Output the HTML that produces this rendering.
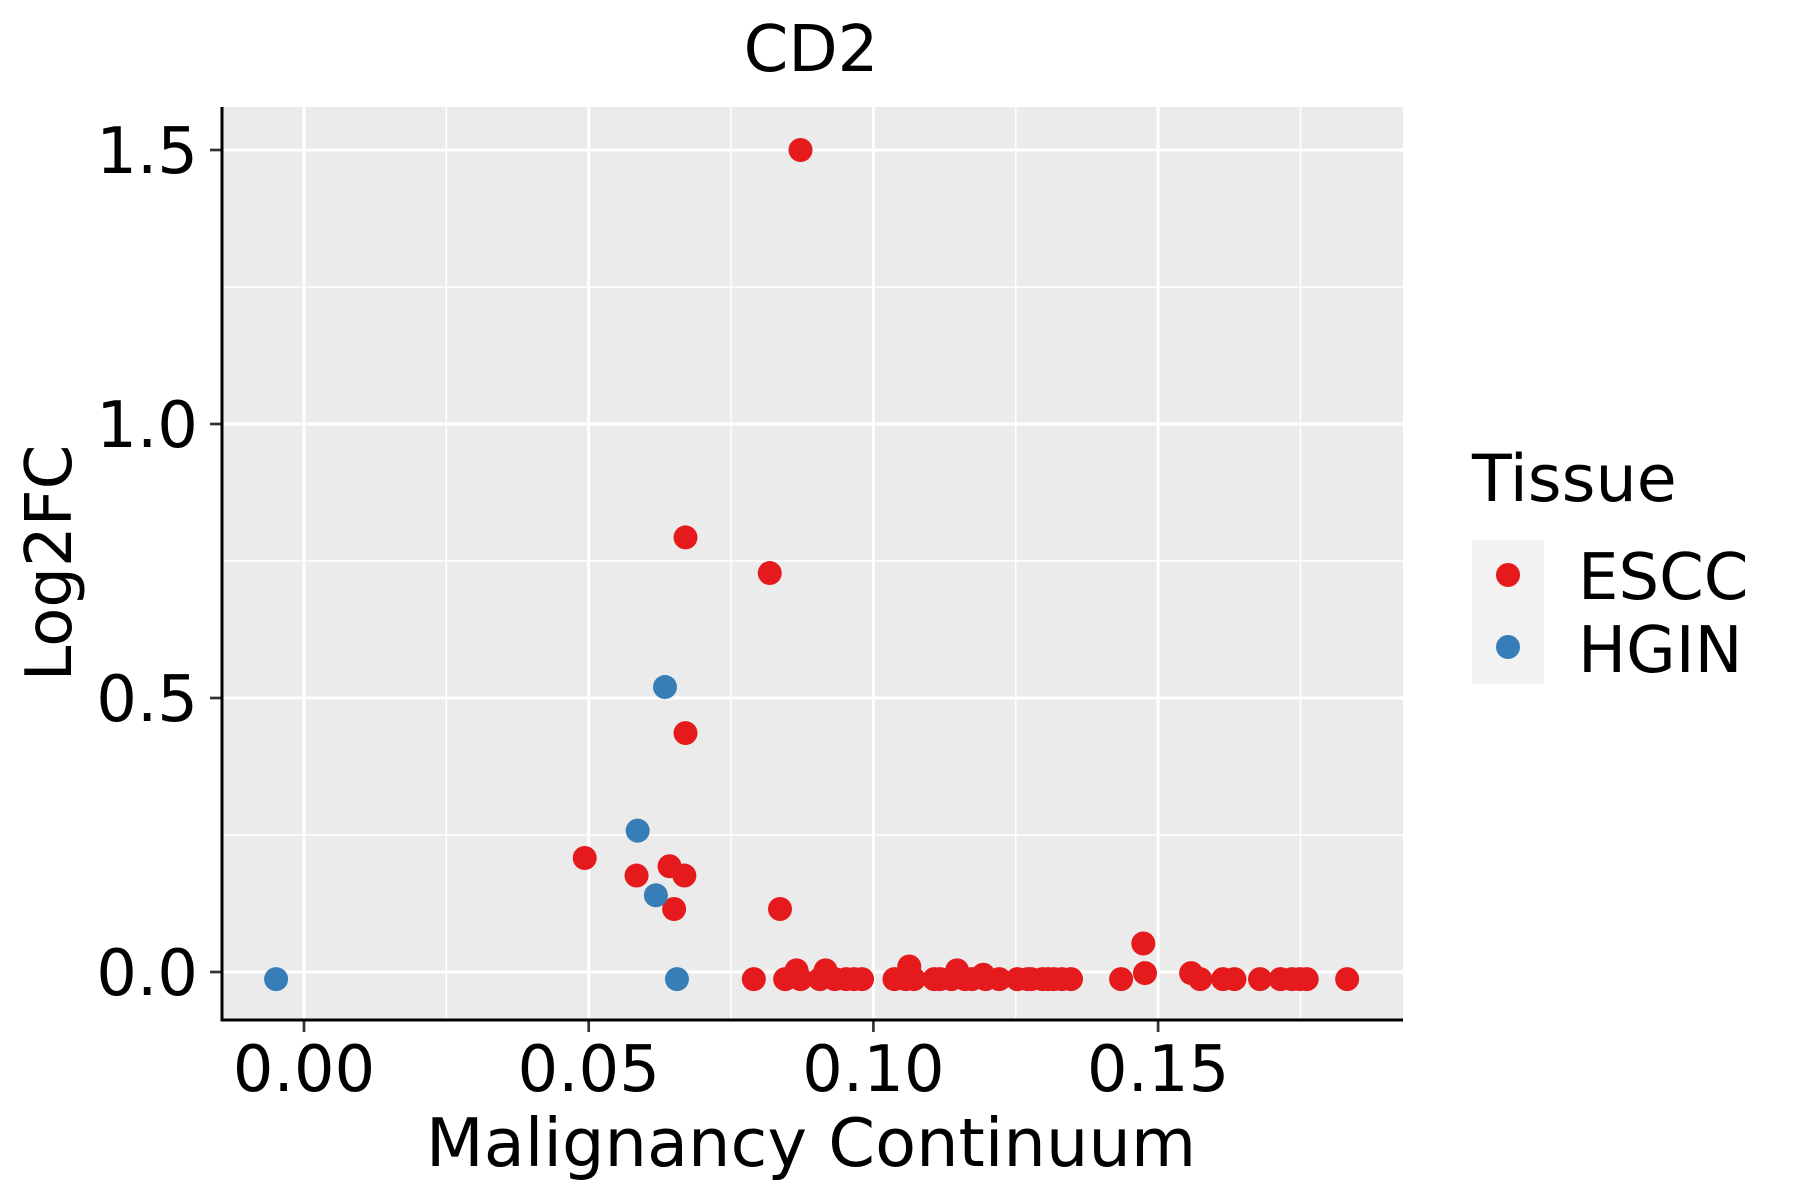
<!DOCTYPE html>
<html><head><meta charset="utf-8"><style>
html,body{margin:0;padding:0;background:#fff;}
svg{display:block;}
text{font-family:"DejaVu Sans","Liberation Sans",sans-serif;fill:#000;}
</style></head><body>
<svg id="chart" width="1800" height="1200" viewBox="0 0 1800 1200">
<rect x="222" y="107" width="1181" height="913" fill="#ebebeb"/>
<g id="grid"></g>
<g id="points"></g>
<g id="axes"></g>
<text x="811" y="71" font-size="64" text-anchor="middle">CD2</text>
<text x="811" y="1166" font-size="67" text-anchor="middle">Malignancy Continuum</text>
<text x="71" y="563" font-size="64" text-anchor="middle" transform="rotate(-90 71 563)">Log2FC</text>
<g>
<text x="1472" y="501" font-size="65">Tissue</text>
<rect x="1472" y="540" width="72" height="144" fill="#f2f2f2"/>
<circle cx="1508" cy="575" r="12" fill="#e41a1c"/>
<circle cx="1508" cy="647" r="12" fill="#377eb8"/>
<text x="1578" y="599" font-size="64">ESCC</text>
<text x="1578" y="672" font-size="64">HGIN</text>
</g>
</svg>
<script>
const xTicks=[0,0.05,0.10,0.15];
const xTickLabels=["0.00","0.05","0.10","0.15"];
const yTicks=[0,0.5,1.0,1.5];
const yTickLabels=["0.0","0.5","1.0","1.5"];
const hginX=[-0.0049,0.0634,0.0586,0.0618,0.0655];
const hginY=[-0.013,0.52,0.258,0.14,-0.013];
const esccX=[0.0872,0.067,0.0818,0.067,0.0493,0.0584,0.0642,0.0668,0.065,0.0836,0.1474,
0.0790,0.0845,0.0865,0.0872,0.0906,0.0916,0.0932,0.0952,0.0966,0.0980,0.1037,0.1057,0.1063,0.1071,0.1107,0.1117,0.1137,0.1147,0.1161,0.1173,0.1193,0.1197,0.1221,0.1253,0.1271,0.1277,0.1297,0.1307,0.1317,0.1331,0.1347,0.1435,0.1477,0.1558,0.1574,0.1614,0.1634,0.1679,0.1715,0.1735,0.1749,0.1761,0.1832];
const esccY=[1.5,0.793,0.728,0.436,0.208,0.176,0.193,0.176,0.115,0.115,0.052,
-0.013,-0.013,0.003,-0.013,-0.013,0.003,-0.013,-0.013,-0.013,-0.013,-0.013,-0.013,0.01,-0.013,-0.013,-0.013,-0.013,0.003,-0.013,-0.013,-0.005,-0.013,-0.013,-0.013,-0.013,-0.013,-0.013,-0.013,-0.013,-0.013,-0.013,-0.013,-0.002,-0.002,-0.013,-0.013,-0.013,-0.013,-0.013,-0.013,-0.013,-0.013,-0.013];
const NS="http://www.w3.org/2000/svg";
function sx(v){return 304+v/0.05*284.7;}
function sy(v){return 972-v/0.5*274;}
function mk(tag,attrs,parent){const e=document.createElementNS(NS,tag);for(const k in attrs)e.setAttribute(k,attrs[k]);parent.appendChild(e);return e;}
const grid=document.getElementById('grid'),pts=document.getElementById('points'),axes=document.getElementById('axes');
for(let i=-1;i<xTicks.length;i++){const v=0.025+0.05*i; if(sx(v)>222&&sx(v)<1403){const l=mk('line',{x1:sx(v),x2:sx(v),y1:107,y2:1020,stroke:'#fff','stroke-width':1.5},grid);

}}
for(let i=0;i<yTicks.length;i++){const v=yTicks[i]+0.25;if(sy(v)>107){const l=mk('line',{x1:222,x2:1403,y1:sy(v),y2:sy(v),stroke:'#fff','stroke-width':1.5},grid);

}}
xTicks.forEach((v,i)=>{const l=mk('line',{x1:sx(v),x2:sx(v),y1:107,y2:1020,stroke:'#fff','stroke-width':3},grid);


const t=mk('line',{x1:sx(v),x2:sx(v),y1:1020,y2:1032,stroke:'#333','stroke-width':2.7},axes);


const tx=mk('text',{x:sx(v),y:1091,'font-size':64,'text-anchor':'middle'},axes);tx.textContent=xTickLabels[i];

});
yTicks.forEach((v,i)=>{const l=mk('line',{x1:222,x2:1403,y1:sy(v),y2:sy(v),stroke:'#fff','stroke-width':3},grid);


const t=mk('line',{x1:210,x2:222,y1:sy(v),y2:sy(v),stroke:'#333','stroke-width':2.7},axes);


const tx=mk('text',{x:198,y:sy(v)+23,'font-size':64,'text-anchor':'end'},axes);tx.textContent=yTickLabels[i];

});
const ax=mk('line',{x1:222,x2:1403,y1:1020,y2:1020,stroke:'#000','stroke-width':3},axes);


const ay=mk('line',{x1:222,x2:222,y1:107,y2:1021.5,stroke:'#000','stroke-width':3},axes);


esccX.forEach((v,i)=>{const c=mk('circle',{cx:sx(v),cy:sy(esccY[i]),r:12,fill:'#e41a1c'},pts);

});
hginX.forEach((v,i)=>{const c=mk('circle',{cx:sx(v),cy:sy(hginY[i]),r:12,fill:'#377eb8'},pts);

});
</script>
</body></html>
